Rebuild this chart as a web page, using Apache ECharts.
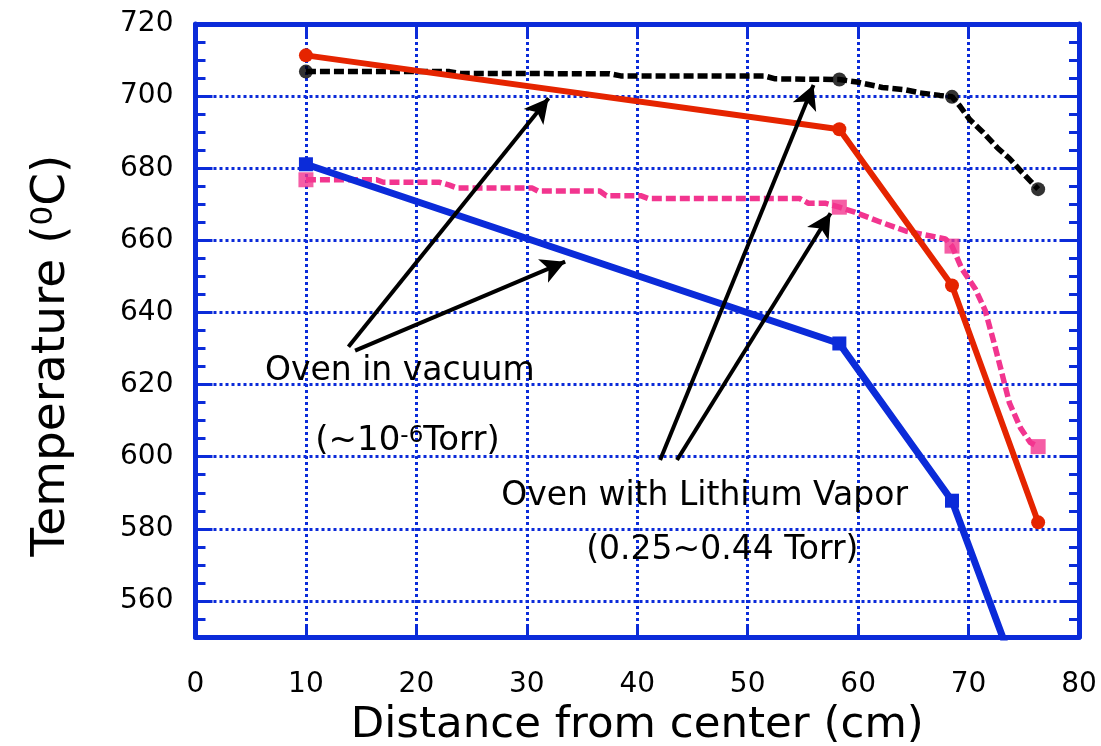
<!DOCTYPE html>
<html><head><meta charset="utf-8">
<script src="https://cdn.jsdelivr.net/npm/echarts@6/dist/echarts.min.js"></script>
<style>html,body{margin:0;padding:0;background:#fff}#c{width:1101px;height:746px}</style>
</head><body><div id="c"></div>
<script>
// ---- data ----
const xTickLabels = [0, 10, 20, 30, 40, 50, 60, 70, 80];
const yTickLabels = [560, 580, 600, 620, 640, 660, 680, 700, 720];

// Oven in vacuum (solid lines)
const redPoints  = [[10, 711.3], [58.3, 690.8], [68.5, 647.5], [76.3, 581.8]];
const bluePoints = [[10, 681.1], [58.3, 631.4], [68.5, 587.8], [76.3, 523.5]];

// Oven with lithium vapor (dashed lines): measured points and traced curve
const blackMarkers = [[10, 706.8], [58.3, 704.6], [68.5, 699.8], [76.3, 674.2]];
const blackTrace = [[10, 706.8], [23, 706.8], [24, 706.3], [37.5, 706.2], [38.5, 705.6], [51.5, 705.6],
  [52.5, 704.8], [58.3, 704.6], [59.9, 703.9], [62.2, 702.4], [64.2, 701.8], [65.6, 700.9], [67.4, 700.2],
  [68.5, 699.8], [69.2, 697.3], [70.1, 693.5], [71.3, 690], [72.6, 685.7], [73.7, 682.7], [74.8, 679], [76.3, 674.2]];
const pinkMarkers = [[10, 676.8], [58.3, 669.2], [68.5, 658.4], [76.3, 602.8]];
const pinkTrace = [[10, 676.8], [16.4, 676.8], [17, 676.1], [22.1, 676.1], [23, 675.3], [23.7, 674.5], [30.5, 674.5],
  [31, 673.7], [36.6, 673.7], [37.2, 672.4], [40.3, 672.4], [41, 671.6], [54.7, 671.6], [55.5, 670.3], [57, 670.3],
  [58.3, 669.2], [59.7, 667.8], [62, 665.1], [64.3, 662.6], [66.1, 661.5], [67.9, 660.4], [68.5, 658.4], [69.4, 652.1],
  [70.6, 646.6], [71.5, 640.6], [72.2, 632.8], [72.9, 624.6], [73.7, 614.9], [74.7, 608], [75.6, 603.9], [76.3, 602.8]];

// annotation arrows (from, to) in data coordinates
const arrowFrom = [[13.85, 630.5], [14.45, 629.4], [42.07, 599.1], [43.6, 599.1]];
const arrowTo   = [[31.97, 699.4], [33.47, 654.1], [55.96, 703.1], [57.5, 667.5]];
// annotation texts and their anchor positions
const noteTexts = ['Oven in vacuum', '{t|(~10}{s|-6}{t|Torr)}', 'Oven with Lithium Vapor', '(0.25~0.44 Torr)'];
const notePos   = [[18.5, 623.6], [19.2, 604.2], [46.1, 589.0], [47.7, 574.0]];

// ---- styles ----
const BLUE = '#0b2bd9', RED = '#e52400', PINK = '#f2358f', BLACK = '#000000';
const FONT = 'DejaVu Sans';

const chart = echarts.init(document.getElementById('c'), null, {renderer: 'canvas'});

const frameLine = {show: true, onZero: false, lineStyle: {color: BLUE, width: 5}};
const tickStyle = {color: BLUE, width: 3};
const gridStyle = {color: BLUE, width: 3, type: [3, 3]};

function yLabel(v) { return yTickLabels.indexOf(v) >= 0 ? String(v) : ''; }
function xLabel(v) { return xTickLabels.indexOf(v) >= 0 ? String(v) : ''; }

const option = {
  animation: false,
  backgroundColor: '#fff',
  grid: {left: 195.5, right: 22, top: 24, bottom: 109, containLabel: false, outerBoundsMode: 'none'},
  xAxis: [
    {type: 'value', position: 'bottom', min: 0, max: 80, interval: 10,
     axisLine: frameLine,
     axisTick: {show: true, inside: true, length: 13, lineStyle: tickStyle},
     axisLabel: {show: true, formatter: xLabel, margin: 34, fontSize: 28, color: '#000', fontFamily: FONT},
     splitLine: {show: true, lineStyle: gridStyle},
     name: 'Distance from center (cm)', nameLocation: 'middle', nameGap: 56,
     nameTextStyle: {fontSize: 43.5, color: '#000', fontFamily: FONT}},
    {type: 'value', position: 'top', min: 0, max: 80, interval: 10,
     axisLine: frameLine,
     axisTick: {show: true, inside: true, length: 13, lineStyle: tickStyle},
     axisLabel: {show: false}, splitLine: {show: false}}
  ],
  yAxis: [
    {type: 'value', position: 'left', min: 550, max: 720, splitNumber: 8,
     axisLine: frameLine,
     axisTick: {show: true, inside: true, length: 17, lineStyle: tickStyle},
     minorTick: {show: true, splitNumber: 4, length: 10, lineStyle: tickStyle},
     axisLabel: {show: true, formatter: yLabel, margin: 22, fontSize: 28, color: '#000', fontFamily: FONT},
     splitLine: {show: true, lineStyle: gridStyle},
     name: '{b|Temperature (}{s|0}{b|C)}', nameLocation: 'middle', nameGap: 120, nameRotate: 90,
     nameTextStyle: {padding: [0, 50, 0, 0],
       rich: {b: {fontSize: 47, color: '#000', fontFamily: FONT},
              s: {fontSize: 31, color: '#000', fontFamily: FONT, verticalAlign: 'top'}}}},
    {type: 'value', position: 'right', min: 550, max: 720, splitNumber: 8,
     axisLine: frameLine,
     axisTick: {show: true, inside: true, length: 17, lineStyle: tickStyle},
     minorTick: {show: true, splitNumber: 4, length: 10, lineStyle: tickStyle},
     axisLabel: {show: false}, splitLine: {show: false}}
  ],
  series: [
    {name: 'Li vapor (black)', type: 'line', data: blackTrace, symbol: 'none', smooth: false,
     lineStyle: {color: BLACK, width: 5.5, type: [10, 4]}, z: 2},
    {name: 'Li vapor (black) pts', type: 'scatter', data: blackMarkers, symbol: 'circle', symbolSize: 14,
     itemStyle: {color: BLACK}, z: 2},
    {name: 'Li vapor (pink)', type: 'line', data: pinkTrace, symbol: 'none',
     lineStyle: {color: PINK, width: 5.5, type: [10, 4]}, z: 2},
    {name: 'Li vapor (pink) pts', type: 'scatter', data: pinkMarkers, symbol: 'rect', symbolSize: 15,
     itemStyle: {color: PINK}, z: 2},
    {name: 'Vacuum (blue)', type: 'line', data: bluePoints, symbol: 'rect', symbolSize: 14, showAllSymbol: true,
     clip: true, lineStyle: {color: BLUE, width: 7}, itemStyle: {color: BLUE}, z: 3},
    {name: 'Vacuum (red)', type: 'line', data: redPoints, symbol: 'circle', symbolSize: 14, showAllSymbol: true,
     clip: true, lineStyle: {color: RED, width: 6}, itemStyle: {color: RED}, z: 3,
     markLine: {
       silent: true, animation: false, z: 6,
       symbol: ['none', 'arrow'], symbolSize: [19, 24],
       label: {show: false},
       lineStyle: {color: BLACK, width: 4, type: 'solid'},
       itemStyle: {color: BLACK},
       emphasis: {disabled: true},
       data: arrowFrom.map((f, i) => [{coord: f}, {coord: arrowTo[i]}])
     },
     markPoint: {
       silent: true, animation: false, z: 6,
       symbol: 'circle', symbolSize: 0,
       itemStyle: {color: 'rgba(0,0,0,0)'},
       label: {show: true, position: 'inside', color: '#000', fontSize: 33, fontFamily: FONT,
         rich: {t: {fontSize: 34, color: '#000', fontFamily: FONT},
                s: {fontSize: 23, color: '#000', fontFamily: FONT, verticalAlign: 'top'}}},
       data: notePos.map((p, i) => ({coord: p, label: {formatter: noteTexts[i]}}))
     }}
  ]
};
chart.setOption(option);
</script>
</body></html>
